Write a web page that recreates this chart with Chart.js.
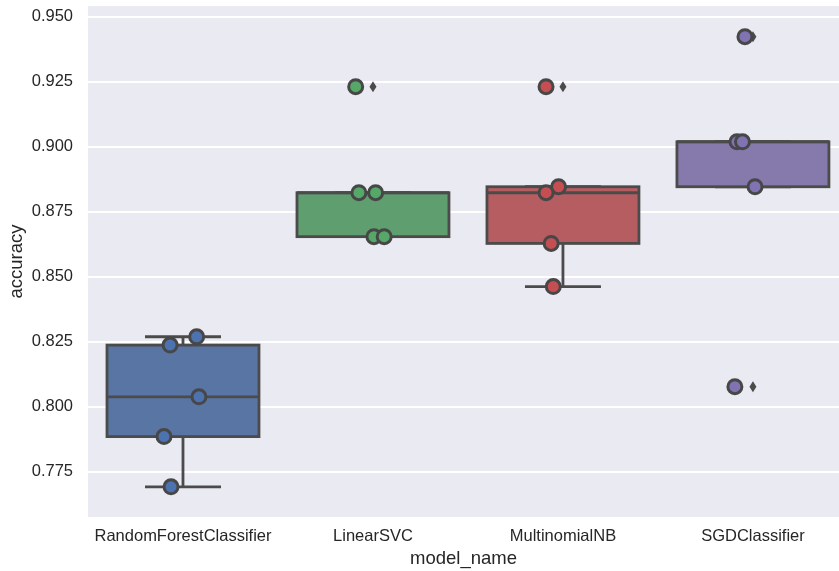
<!DOCTYPE html>
<html>
<head>
<meta charset="utf-8">
<script src="https://cdn.jsdelivr.net/npm/chart.js@4.4.0/dist/chart.umd.min.js"></script>
<style>
  html, body { margin: 0; padding: 0; background: #fff; overflow: hidden; }
</style>
</head>
<body>
<canvas id="chart" width="839" height="571"></canvas>
<script>
const models = ['RandomForestClassifier', 'LinearSVC', 'MultinomialNB', 'SGDClassifier'];

// accuracy of each fold
const accRF  = [0.7692, 0.7885, 0.8038, 0.8237, 0.8269];
const accSVC = [0.9231, 0.8823, 0.8823, 0.8654, 0.8654];
const accNB  = [0.9231, 0.8846, 0.8823, 0.8628, 0.8462];
const accSGD = [0.9423, 0.9019, 0.9019, 0.8846, 0.8077];

// strip jitter of each point (in category units)
const jitRF  = [-0.063, -0.100, 0.084, -0.068, 0.072];
const jitSVC = [-0.091, -0.074, 0.014, 0.005, 0.059];
const jitNB  = [-0.089, -0.023, -0.089, -0.062, -0.051];
const jitSGD = [-0.042, -0.084, -0.055, 0.011, -0.095];

// box stats
const q1     = [0.7885, 0.8654, 0.8628, 0.8846];
const median = [0.8038, 0.8823, 0.8823, 0.9019];
const q3     = [0.8237, 0.8823, 0.8846, 0.9019];
const whisLo = [0.7692, 0.8654, 0.8462, 0.8846];
const whisHi = [0.8269, 0.8823, 0.8846, 0.9019];
const fliers = [[], [0.9231], [0.9231], [0.9423, 0.8077]];

const yTicks = [0.775, 0.800, 0.825, 0.850, 0.875, 0.900, 0.925, 0.950];

const pointColors = ['#4C72B0', '#55A868', '#C44E52', '#8172B2'];
const boxColors = ['#5875a4', '#5f9e6e', '#b55d60', '#857aab'];
const gray = '#4b4b4b';

const allAcc = [accRF, accSVC, accNB, accSGD];
const allJit = [jitRF, jitSVC, jitNB, jitSGD];

const bgPlugin = {
  id: 'bg',
  beforeDraw(chart) {
    const {ctx, chartArea: a} = chart;
    ctx.save();
    ctx.fillStyle = '#EAEAF2';
    ctx.fillRect(a.left, a.top, a.right - a.left, a.bottom - a.top);
    ctx.restore();
  }
};

const boxPlugin = {
  id: 'boxes',
  beforeDatasetsDraw(chart) {
    const ctx = chart.ctx;
    const xs = chart.scales.x, ys = chart.scales.y;
    ctx.save();
    ctx.lineWidth = 2.8;
    ctx.strokeStyle = gray;
    for (let i = 0; i < models.length; i++) {
      const cx = xs.getPixelForValue(i);
      const left = xs.getPixelForValue(i - 0.4), right = xs.getPixelForValue(i + 0.4);
      const capL = xs.getPixelForValue(i - 0.2), capR = xs.getPixelForValue(i + 0.2);
      const top = ys.getPixelForValue(q3[i]), bot = ys.getPixelForValue(q1[i]);
      const lo = ys.getPixelForValue(whisLo[i]), hi = ys.getPixelForValue(whisHi[i]);
      // whiskers and caps
      ctx.beginPath();
      ctx.moveTo(cx, bot); ctx.lineTo(cx, lo);
      ctx.moveTo(cx, top); ctx.lineTo(cx, hi);
      ctx.moveTo(capL, lo); ctx.lineTo(capR, lo);
      ctx.moveTo(capL, hi); ctx.lineTo(capR, hi);
      ctx.stroke();
      // box
      ctx.fillStyle = boxColors[i];
      ctx.fillRect(left, top, right - left, bot - top);
      ctx.strokeRect(left, top, right - left, bot - top);
      // median
      const my = ys.getPixelForValue(median[i]);
      ctx.beginPath();
      ctx.moveTo(left, my); ctx.lineTo(right, my);
      ctx.stroke();
      // fliers (thin diamonds)
      ctx.fillStyle = gray;
      fliers[i].forEach(v => {
        const fy = ys.getPixelForValue(v);
        ctx.beginPath();
        ctx.moveTo(cx, fy - 5.5);
        ctx.lineTo(cx + 3.5, fy);
        ctx.lineTo(cx, fy + 5.5);
        ctx.lineTo(cx - 3.5, fy);
        ctx.closePath();
        ctx.fill();
      });
    }
    ctx.restore();
  }
};

const datasets = models.map((m, i) => ({
  label: m,
  data: allAcc[i].map((v, k) => ({x: i + allJit[i][k], y: v})),
  backgroundColor: pointColors[i],
  borderColor: '#474747',
  borderWidth: 3,
  pointRadius: 7,
  pointHoverRadius: 7
}));

const tickFont = {family: '"Liberation Sans", Arial, sans-serif', size: 16.5};
const titleFont = {family: '"Liberation Sans", Arial, sans-serif', size: 18.5};

new Chart(document.getElementById('chart'), {
  type: 'scatter',
  data: {datasets: datasets},
  options: {
    responsive: false,
    animation: false,
    devicePixelRatio: 1,
    layout: {autoPadding: false, padding: {top: 6, right: 0, left: 0, bottom: 0}},
    plugins: {legend: {display: false}, tooltip: {enabled: false}},
    scales: {
      x: {
        type: 'linear',
        min: -0.5,
        max: 3.453,
        afterBuildTicks: s => { s.ticks = models.map((m, i) => ({value: i})); },
        afterFit: s => { s.height = 54; s.paddingLeft = 0; s.paddingRight = 0; },
        grid: {display: false, drawTicks: false},
        border: {display: false},
        ticks: {
          autoSkip: false, maxRotation: 0, minRotation: 0,
          padding: 10, color: '#262626', font: tickFont,
          callback: v => models[v]
        },
        title: {display: true, text: 'model_name', color: '#262626', font: titleFont, padding: {top: 0, bottom: 1}}
      },
      y: {
        min: 0.75758,
        max: 0.95412,
        afterBuildTicks: s => { s.ticks = yTicks.map(v => ({value: v})); },
        afterFit: s => { s.width = 88; s.paddingTop = 0; s.paddingBottom = 0; },
        grid: {color: '#ffffff', lineWidth: 2, drawTicks: false},
        border: {display: false},
        ticks: {padding: 15, color: '#262626', font: tickFont, callback: v => v.toFixed(3)},
        title: {display: true, text: 'accuracy', color: '#262626', font: titleFont, padding: {top: 6, bottom: 0}}
      }
    }
  },
  plugins: [bgPlugin, boxPlugin]
});
</script>
</body>
</html>
